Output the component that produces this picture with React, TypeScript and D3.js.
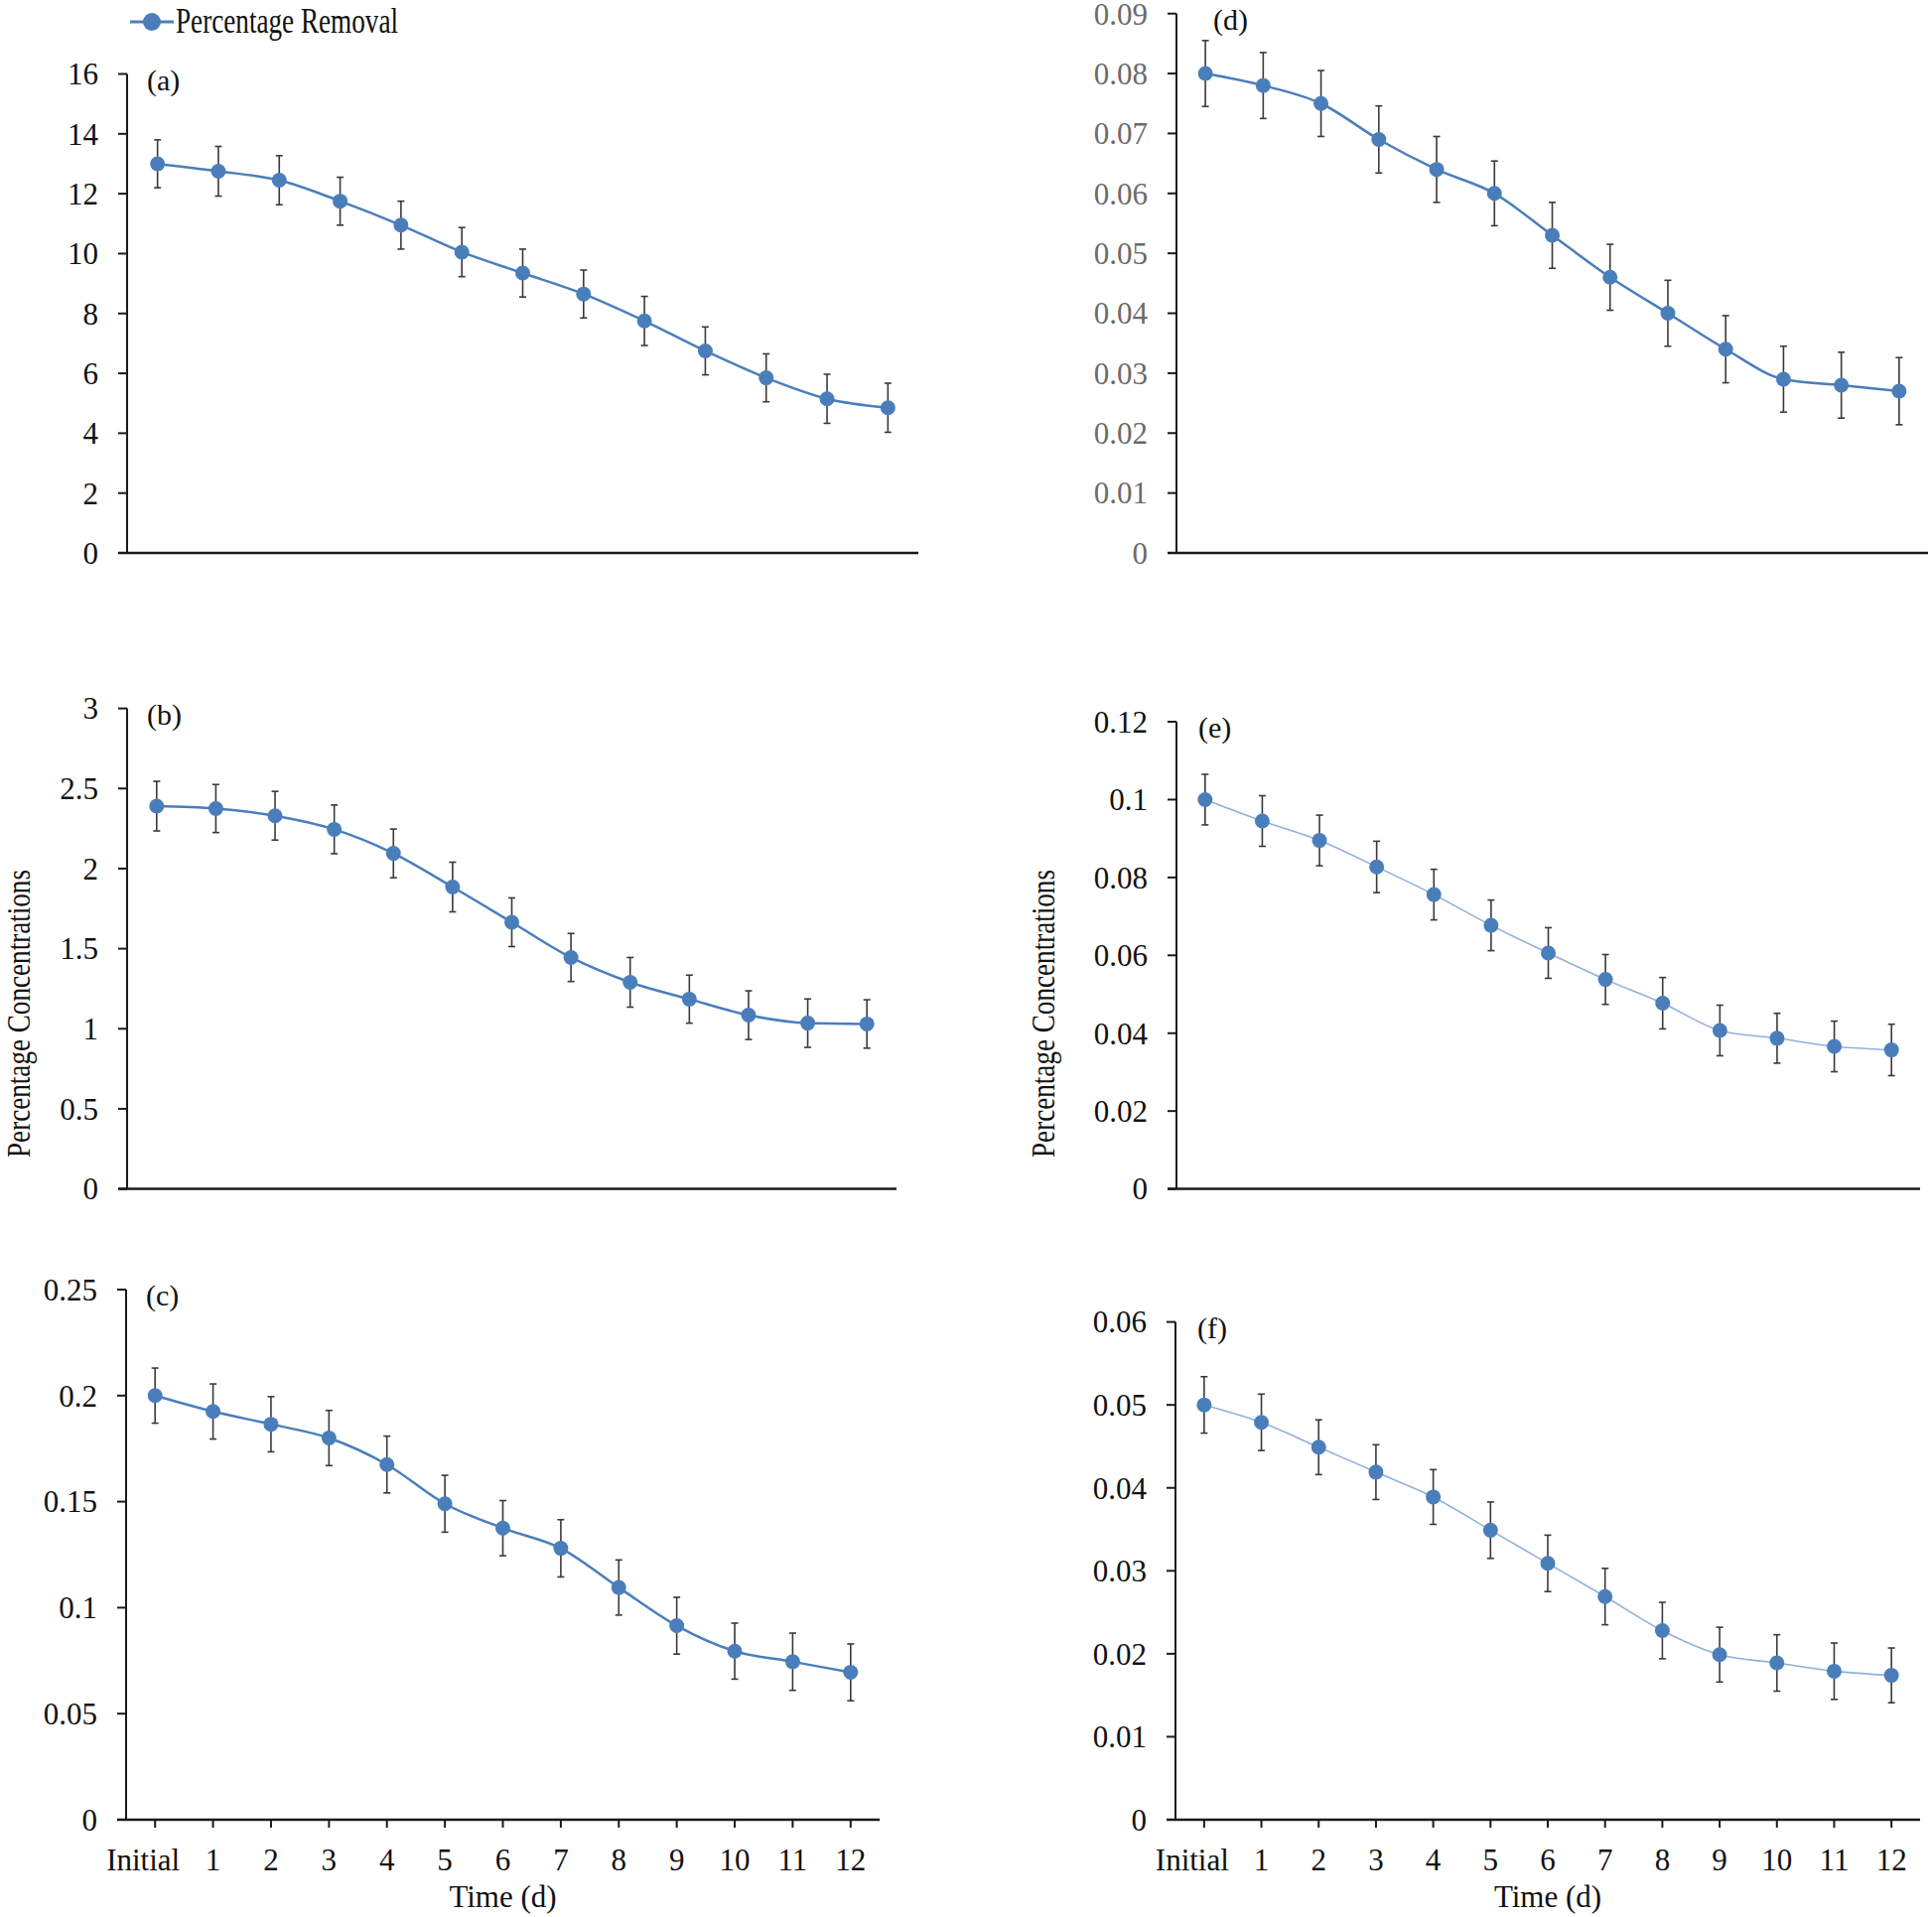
import React from "react";
import * as d3 from "d3";

const categories = ["Initial", "1", "2", "3", "4", "5", "6", "7", "8", "9", "10", "11", "12"];

const valuesA = [13, 12.75, 12.45, 11.75, 10.95, 10.05, 9.35, 8.65, 7.75, 6.75, 5.85, 5.15, 4.85];
const errorsA = [0.8, 0.83, 0.82, 0.8, 0.8, 0.82, 0.8, 0.8, 0.82, 0.8, 0.8, 0.82, 0.82];
const ticksA = [0, 2, 4, 6, 8, 10, 12, 14, 16];

const valuesB = [2.39, 2.375, 2.33, 2.245, 2.095, 1.885, 1.665, 1.445, 1.29, 1.185, 1.085, 1.035, 1.03];
const errorsB = [0.155, 0.15, 0.152, 0.152, 0.152, 0.155, 0.152, 0.15, 0.155, 0.15, 0.152, 0.151, 0.151];
const ticksB = [0, 0.5, 1, 1.5, 2, 2.5, 3];

const valuesC = [0.2, 0.1925, 0.1865, 0.18, 0.1675, 0.149, 0.1375, 0.128, 0.1095, 0.0915, 0.0795, 0.0745, 0.0695];
const errorsC = [0.013, 0.013, 0.013, 0.013, 0.0134, 0.0134, 0.013, 0.0135, 0.013, 0.0134, 0.0132, 0.0135, 0.0134];
const ticksC = [0, 0.05, 0.1, 0.15, 0.2, 0.25];

const valuesD = [0.08, 0.078, 0.075, 0.069, 0.064, 0.06, 0.053, 0.046, 0.04, 0.034, 0.029, 0.028, 0.027];
const errorsD = [0.0055, 0.0055, 0.0055, 0.0056, 0.0055, 0.0054, 0.0055, 0.0055, 0.0055, 0.0056, 0.0055, 0.0055, 0.0056];
const ticksD = [0, 0.01, 0.02, 0.03, 0.04, 0.05, 0.06, 0.07, 0.08, 0.09];

const valuesE = [0.1, 0.0945, 0.0895, 0.0827, 0.0756, 0.0677, 0.0606, 0.0538, 0.0477, 0.0407, 0.0387, 0.0366, 0.0357];
const errorsE = [0.0065, 0.0065, 0.0065, 0.0066, 0.0065, 0.0065, 0.0065, 0.0064, 0.0066, 0.0065, 0.0064, 0.0065, 0.0066];
const ticksE = [0, 0.02, 0.04, 0.06, 0.08, 0.1, 0.12];

const valuesF = [0.05, 0.0479, 0.0449, 0.0419, 0.0389, 0.0349, 0.0309, 0.0269, 0.0228, 0.0199, 0.0189, 0.0179, 0.0174];
const errorsF = [0.0034, 0.0034, 0.0033, 0.0033, 0.0033, 0.0034, 0.0034, 0.0034, 0.0034, 0.0033, 0.0034, 0.0034, 0.0033];
const ticksF = [0, 0.01, 0.02, 0.03, 0.04, 0.05, 0.06];

const panelLabels = ["(a)", "(b)", "(c)", "(d)", "(e)", "(f)"];
const legendLabel = "Percentage Removal";
const yTitle = "Percentage Concentrations";
const xTitle = "Time (d)";

const FONT = "'Liberation Serif', 'Times New Roman', serif";
const BLUE = "#4A7EBB";

type PanelProps = {
  values: number[];
  errors: number[];
  ticks: number[];
  label: string;
  x0: number;
  x1: number;
  yTop: number;
  yBottom: number;
  showX: boolean;
  tickColor?: string;
  lineColor?: string;
  lineWidth?: number;
  labelDx?: number;
};

function Panel(p: PanelProps) {
  const x = d3.scaleBand<string>().domain(categories).range([p.x0, p.x1]).paddingInner(0).paddingOuter(0);
  const yMax = p.ticks[p.ticks.length - 1];
  const y = d3.scaleLinear().domain([0, yMax]).range([p.yBottom, p.yTop]);
  const cx = (c: string) => (x(c) as number) + x.bandwidth() / 2;
  const line = d3
    .line<number>()
    .x((_, i) => cx(categories[i]))
    .y((d) => y(d))
    .curve(d3.curveMonotoneX);
  const fmt = (v: number) => String(+v.toFixed(4));
  return (
    <g>
      {/* y axis */}
      <line x1={p.x0} x2={p.x0} y1={y(yMax)} y2={y(0)} stroke="#1a1a1a" strokeWidth={2} />
      {p.ticks.map((t) => (
        <g key={t}>
          <line x1={p.x0 - 9} x2={p.x0} y1={y(t)} y2={y(t)} stroke="#1a1a1a" strokeWidth={2} />
          <text
            x={p.x0 - 29}
            y={y(t)}
            dy="0.35em"
            textAnchor="end"
            fontFamily={FONT}
            fontSize={31}
            fill={p.tickColor || "#111"}
          >
            {fmt(t)}
          </text>
        </g>
      ))}
      {/* x axis */}
      <line x1={p.x0 - 9} x2={p.x1} y1={y(0)} y2={y(0)} stroke="#1a1a1a" strokeWidth={2.5} />
      {p.showX &&
        categories.map((c, i) => (
          <g key={c}>
            <line x1={cx(c)} x2={cx(c)} y1={y(0)} y2={y(0) + 8} stroke="#1a1a1a" strokeWidth={2} />
            <text
              x={cx(c) + (i === 0 ? -12 : 0)}
              y={y(0) + 51}
              textAnchor="middle"
              fontFamily={FONT}
              fontSize={31}
              fill="#111"
            >
              {c}
            </text>
          </g>
        ))}
      {p.showX && (
        <text
          x={(p.x0 + p.x1) / 2}
          y={y(0) + 88}
          textAnchor="middle"
          fontFamily={FONT}
          fontSize={31}
          fill="#111"
        >
          {xTitle}
        </text>
      )}
      {/* panel label */}
      <text x={p.x0 + (p.labelDx ?? 20)} y={y(yMax) + 16} fontFamily={FONT} fontSize={30} fill="#111">
        {p.label}
      </text>
      {/* series line */}
      <path d={line(p.values) || ""} fill="none" stroke={p.lineColor || BLUE} strokeWidth={p.lineWidth || 2.5} />
      {/* error bars */}
      {p.values.map((v, i) => {
        const px = cx(categories[i]);
        const e = p.errors[i];
        return (
          <g key={"e" + i} stroke="#3a3a3a" strokeWidth={1.6}>
            <line x1={px} x2={px} y1={y(v + e)} y2={y(v - e)} />
            <line x1={px - 3.5} x2={px + 3.5} y1={y(v + e)} y2={y(v + e)} />
            <line x1={px - 3.5} x2={px + 3.5} y1={y(v - e)} y2={y(v - e)} />
          </g>
        );
      })}
      {/* markers */}
      {p.values.map((v, i) => (
        <circle key={"m" + i} cx={cx(categories[i])} cy={y(v)} r={7.5} fill={BLUE} />
      ))}
    </g>
  );
}

export default function App() {
  return (
    <svg
      width={1946}
      height={1931}
      style={{ position: "absolute", left: 0, top: 0, background: "#fff" }}
    >
      <rect x={0} y={0} width={1946} height={1931} fill="#fff" />
      {/* legend */}
      <line x1={131} x2={175} y1={22} y2={22} stroke={BLUE} strokeWidth={3} />
      <circle cx={153} cy={22} r={9} fill={BLUE} />
      <text x={177} y={33} fontFamily={FONT} fontSize={36} fill="#111" textLength={224} lengthAdjust="spacingAndGlyphs">
        {legendLabel}
      </text>

      <Panel values={valuesA} errors={errorsA} ticks={ticksA} label={panelLabels[0]} x0={128} x1={925} yTop={74.5} yBottom={557} showX={false} />
      <Panel values={valuesB} errors={errorsB} ticks={ticksB} label={panelLabels[1]} x0={128} x1={903} yTop={713.6} yBottom={1197.6} showX={false} />
      <Panel values={valuesC} errors={errorsC} ticks={ticksC} label={panelLabels[2]} x0={127} x1={886} yTop={1299} yBottom={1833} showX={true} />
      <Panel values={valuesD} errors={errorsD} ticks={ticksD} label={panelLabels[3]} x0={1185} x1={1942} yTop={13.7} yBottom={557} showX={false} tickColor="#6b6b6b" labelDx={37} />
      <Panel values={valuesE} errors={errorsE} ticks={ticksE} label={panelLabels[4]} x0={1185} x1={1934} yTop={727} yBottom={1197.6} showX={false} lineColor="#8FB1DA" lineWidth={1.6} labelDx={22} />
      <Panel values={valuesF} errors={errorsF} ticks={ticksF} label={panelLabels[5]} x0={1184} x1={1934} yTop={1331.6} yBottom={1833} showX={true} lineColor="#8FB1DA" lineWidth={1.6} labelDx={22} />

      {/* y axis titles */}
      <text
        transform="translate(30,1021) rotate(-90)"
        textAnchor="middle"
        fontFamily={FONT}
        fontSize={34}
        fill="#111"
        textLength={290}
        lengthAdjust="spacingAndGlyphs"
      >
        {yTitle}
      </text>
      <text
        transform="translate(1062,1021) rotate(-90)"
        textAnchor="middle"
        fontFamily={FONT}
        fontSize={34}
        fill="#111"
        textLength={290}
        lengthAdjust="spacingAndGlyphs"
      >
        {yTitle}
      </text>
    </svg>
  );
}
